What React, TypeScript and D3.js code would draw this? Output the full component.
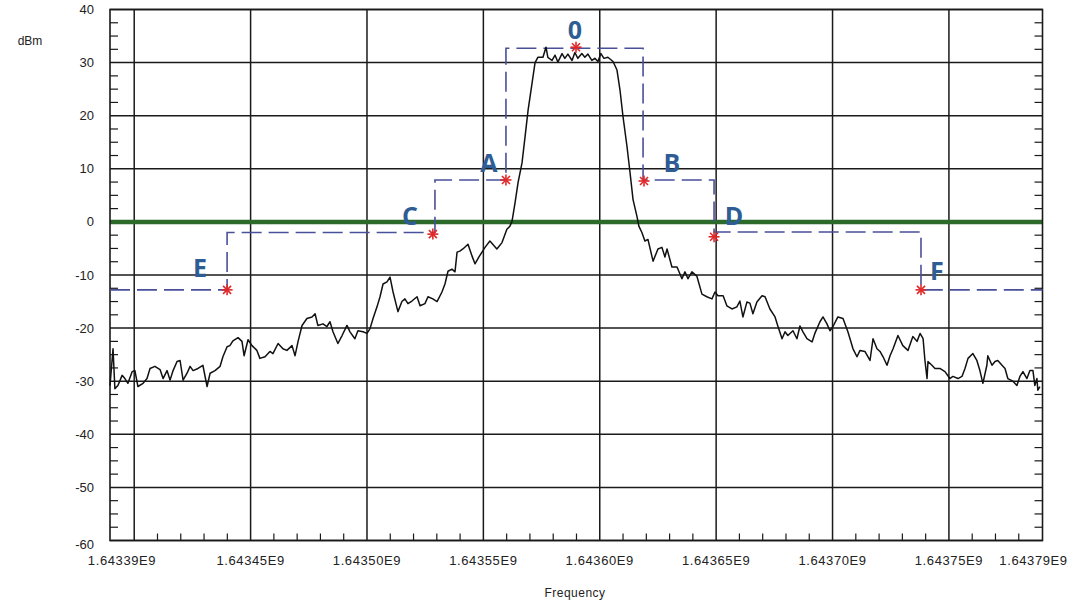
import React from "react";
import * as d3 from "d3";

// ---------- data ----------
const FREQ_MIN_HZ = 1643389600;
const FREQ_MAX_HZ = 1643790200;
const DBM_MIN = -60;
const DBM_MAX = 40;

const xMajorTicksHz = [1643400000, 1643450000, 1643500000, 1643550000, 1643600000, 1643650000, 1643700000, 1643750000];
const xLabelTicksHz = [1643450000, 1643500000, 1643550000, 1643600000, 1643650000, 1643700000, 1643750000];
const xEdgeLabels = ["1.64339E9", "1.64379E9"];
const yTicks = [40, 30, 20, 10, 0, -10, -20, -30, -40, -50, -60];

// trace: frequency offset (kHz) from FREQ_MIN_HZ, level in dBm
const traceOffsetKHz = [
  0, 1.3, 2.1, 3.4, 5.2, 6.4, 7.7, 9.5, 10.7, 12.0, 14.2, 15.9, 17.2, 19.3, 21.5, 22.8, 24.5, 25.8, 27.1, 28.8,
  30.1, 31.4, 33.1, 34.4, 35.7, 37.8, 39.9, 41.7, 43.0, 45.1, 47.3, 48.5, 50.3, 51.5, 52.8, 55.0, 56.7, 57.6, 59.3, 61.0,
  63.1, 64.4, 66.6, 68.7, 70.0, 72.2, 74.3, 76.0, 78.2, 79.5, 80.8, 82.5, 84.6, 86.8, 88.1, 89.3, 91.5, 93.2, 94.5, 95.8,
  97.9, 99.7, 101.8, 103.1, 105.2, 106.5, 108.7, 110.4, 111.7, 113.0, 114.7, 116.0, 117.3, 119.0, 120.3, 121.6, 123.7, 125.4, 126.7, 128.0,
  129.7, 131.9, 133.2, 135.3, 136.6, 138.7, 140.5, 142.6, 143.9, 145.2, 146.9, 148.2, 149.1, 150.3, 151.6, 153.8, 155.5, 156.8, 158.5, 161.1,
  163.2, 166.2, 168.4, 170.5, 171.8, 172.7, 174.0, 175.3, 177.0, 178.3, 179.6, 181.3, 182.6, 183.8, 186.0, 187.3, 188.1, 189.9, 191.2, 192.4,
  194.2, 195.4, 196.7, 198.5, 199.7, 201.0, 202.7, 204.0, 205.3, 207.0, 208.3, 209.6, 210.9, 212.2, 213.9, 216.1, 217.8, 219.1, 220.4, 222.1,
  223.4, 224.7, 226.4, 227.2, 228.5, 229.8, 231.1, 233.3, 235.4, 237.1, 238.4, 239.3, 241.4, 243.6, 245.7, 247.0, 248.3, 250.0, 252.1, 254.3,
  256.4, 258.6, 259.9, 261.2, 263.4, 265.0, 267.2, 269.3, 270.6, 271.9, 273.6, 274.9, 276.2, 277.9, 280.1, 281.4, 283.5, 285.7, 286.9, 288.7,
  290.0, 291.2, 293.4, 295.1, 296.4, 297.7, 299.4, 301.6, 302.8, 305.0, 306.3, 308.0, 309.3, 310.6, 312.7, 314.9, 317.0, 319.2, 320.9, 322.2,
  324.3, 326.5, 327.8, 329.5, 330.8, 332.1, 333.8, 335.1, 336.4, 338.5, 340.6, 342.8, 344.9, 346.7, 348.0, 349.3, 350.1, 351.0, 351.4, 353.1,
  354.4, 356.5, 358.7, 360.8, 362.1, 364.3, 366.0, 367.3, 368.6, 370.7, 372.4, 373.7, 375.0, 376.7, 377.1, 378.9, 380.2, 381.4, 383.2, 384.5,
  385.7, 387.9, 389.6, 390.9, 392.2, 393.9, 395.2, 396.5, 397.3, 398.2, 398.6, 399.5,
];
const traceDbm = [
  -30.8, -23.9, -31.4, -30.8, -28.9, -29.5, -30.4, -28.2, -28.0, -31.0, -30.4, -29.5, -27.6, -27.2, -27.8, -29.5, -28.0, -29.8, -28.0, -26.3,
  -26.1, -29.8, -28.5, -27.2, -28.0, -27.6, -27.0, -31.0, -28.5, -28.0, -27.2, -25.4, -23.5, -23.3, -22.4, -21.8, -22.5, -25.2, -22.2, -23.3,
  -24.2, -25.7, -25.4, -24.4, -24.8, -22.9, -23.9, -24.2, -23.3, -25.2, -22.5, -19.5, -18.2, -17.9, -17.3, -19.5, -19.2, -19.7, -18.8, -20.7,
  -22.9, -21.4, -19.5, -20.7, -22.0, -20.5, -20.7, -21.0, -20.1, -18.2, -16.0, -14.1, -11.7, -11.3, -10.4, -13.2, -16.9, -15.0, -14.5, -15.4,
  -14.9, -14.1, -15.8, -15.4, -14.1, -14.5, -15.0, -13.2, -11.7, -9.3, -8.9, -9.4, -5.7, -5.5, -5.1, -4.2, -6.4, -7.9, -6.6, -4.8,
  -3.6, -5.1, -3.9, -1.4, -0.8, 0.1, 3.6, 7.4, 11.1, 16.0, 21.0, 26.1, 30.0, 31.0, 31.0, 32.9, 31.0, 30.4, 31.4, 30.1,
  31.7, 30.8, 31.6, 30.4, 31.9, 30.8, 31.7, 31.0, 31.6, 30.4, 30.8, 30.2, 31.7, 30.8, 31.0, 30.2, 28.6, 24.8, 19.8, 14.2,
  9.3, 4.2, 1.0, -0.8, -2.0, -3.6, -3.3, -7.4, -5.1, -4.8, -6.6, -5.1, -8.5, -8.5, -10.7, -9.4, -10.7, -9.4, -10.2, -13.6,
  -14.1, -14.5, -13.2, -13.9, -13.9, -15.8, -16.4, -16.0, -14.9, -17.9, -15.1, -15.3, -17.3, -15.1, -13.9, -14.1, -16.4, -17.9, -19.6, -22.0,
  -20.7, -21.4, -20.5, -22.0, -19.6, -20.7, -22.0, -22.6, -21.0, -18.8, -17.9, -19.2, -20.5, -19.7, -17.9, -18.2, -20.7, -23.9, -25.4, -24.2,
  -24.4, -26.1, -22.0, -23.9, -24.4, -25.4, -27.0, -25.2, -23.9, -21.4, -23.3, -24.2, -21.6, -22.5, -21.0, -22.0, -26.1, -29.5, -26.3, -27.0,
  -27.6, -27.6, -28.2, -29.5, -29.1, -29.5, -29.1, -27.6, -25.7, -24.8, -26.1, -28.0, -30.4, -27.0, -25.2, -27.0, -26.3, -26.1, -27.0, -27.6,
  -29.5, -30.0, -30.8, -29.1, -28.2, -29.5, -28.0, -28.0, -30.8, -29.5, -31.7, -31.0,
];

// spectrum mask (step line)
const maskOffsetKHz = [0, 50.3, 50.3, 139.6, 139.6, 170.1, 170.1, 229.0, 229.0, 259.5, 259.5, 348.4, 348.4, 400.6];
const maskDbm = [-12.8, -12.8, -2.0, -2.0, 7.9, 7.9, 32.7, 32.7, 7.9, 7.9, -1.9, -1.9, -12.8, -12.8];

// marker points
const markerNames = ["E", "C", "A", "0", "B", "D", "F"];
const markerOffsetKHz = [50.3, 138.7, 170.1, 200.2, 229.4, 259.5, 348.4];
const markerDbm = [-12.8, -2.3, 7.9, 32.9, 7.7, -2.8, -12.8];
// label placement relative to marker (px)
const markerLabelDx = [-27, -23, -17, -1, 28, 20, 16];
const markerLabelDy = [-13, -9, -8, -8, -9, -12, -10];

const REFERENCE_DBM = 0;

// ---------- layout ----------
const W = 1080;
const H = 610;
const PL = 110;
const PR = 1042.5;
const PT = 9.5;
const PB = 540.5;

export default function App() {
  const x = d3.scaleLinear().domain([FREQ_MIN_HZ, FREQ_MAX_HZ]).range([PL, PR]);
  const y = d3.scaleLinear().domain([DBM_MIN, DBM_MAX]).range([PB, PT]);

  const trace = traceOffsetKHz.map((k, i) => [FREQ_MIN_HZ + k * 1000, traceDbm[i]] as [number, number]);
  const mask = maskOffsetKHz.map((k, i) => [FREQ_MIN_HZ + k * 1000, maskDbm[i]] as [number, number]);
  const line = d3
    .line<[number, number]>()
    .x((d) => x(d[0]))
    .y((d) => y(d[1]));

  const yMinor = d3.range(DBM_MIN + 2.5, DBM_MAX, 2.5).filter((v) => Math.abs(v % 10) > 0.01);
  const xMinor = d3
    .range(1643410000, 1643785000, 10000)
    .filter((v) => v % 50000 !== 0);

  const font = "'Liberation Sans', Arial, sans-serif";
  const fmt = (v: number) => (v / 1e9).toFixed(5) + "E9";

  return (
    <svg
      width={W}
      height={H}
      viewBox={`0 0 ${W} ${H}`}
      style={{ position: "absolute", left: 0, top: 0, background: "#fff" }}
    >
      <rect x={0} y={0} width={W} height={H} fill="#ffffff" />
      <rect x={PL} y={PT} width={PR - PL} height={PB - PT} fill="#ffffff" />

      {/* horizontal grid */}
      {yTicks.map((t) => (
        <line key={"hg" + t} x1={PL} x2={PR} y1={y(t)} y2={y(t)} stroke="#1a1a1a" strokeWidth={1.5} />
      ))}
      {/* vertical grid */}
      {xMajorTicksHz.map((t) => (
        <line key={"vg" + t} x1={x(t)} x2={x(t)} y1={PT} y2={PB} stroke="#1a1a1a" strokeWidth={1.5} />
      ))}

      {/* minor ticks */}
      {yMinor.map((t) => (
        <g key={"ym" + t}>
          <line x1={PL} x2={PL + 8} y1={y(t)} y2={y(t)} stroke="#1a1a1a" strokeWidth={1.2} />
          <line x1={PR - 8} x2={PR} y1={y(t)} y2={y(t)} stroke="#1a1a1a" strokeWidth={1.2} />
        </g>
      ))}
      {xMinor.map((t) => (
        <line key={"xm" + t} x1={x(t)} x2={x(t)} y1={PB} y2={PB - 7} stroke="#1a1a1a" strokeWidth={1.2} />
      ))}

      {/* reference line */}
      <line
        x1={PL}
        x2={PR}
        y1={y(REFERENCE_DBM)}
        y2={y(REFERENCE_DBM)}
        stroke="#2b6a2b"
        strokeWidth={4.5}
      />

      {/* frame */}
      <rect x={PL} y={PT} width={PR - PL} height={PB - PT} fill="none" stroke="#1a1a1a" strokeWidth={1.6} />

      {/* mask */}
      <path
        d={line(mask) || ""}
        fill="none"
        stroke="#4a4f9a"
        strokeWidth={1.6}
        strokeDasharray="20 7"
      />

      {/* trace */}
      <path d={line(trace) || ""} fill="none" stroke="#111" strokeWidth={1.5} strokeLinejoin="round" />

      {/* markers */}
      {markerNames.map((n, i) => {
        const cx = x(FREQ_MIN_HZ + markerOffsetKHz[i] * 1000);
        const cy = y(markerDbm[i]);
        const r = 5.5;
        const r2 = 4;
        return (
          <g key={"mk" + n}>
            <g stroke="#e02828" strokeWidth={1.6}>
              <line x1={cx - r} x2={cx + r} y1={cy} y2={cy} />
              <line x1={cx} x2={cx} y1={cy - r} y2={cy + r} />
              <line x1={cx - r2} x2={cx + r2} y1={cy - r2} y2={cy + r2} />
              <line x1={cx - r2} x2={cx + r2} y1={cy + r2} y2={cy - r2} />
            </g>
            <text
              x={cx + markerLabelDx[i]}
              y={cy + markerLabelDy[i]}
              textAnchor="middle"
              fontFamily="'Open Sans', 'Noto Sans', sans-serif"
              fontWeight={700}
              fontSize={25}
              fill="#2e5c94"
            >
              {n}
            </text>
          </g>
        );
      })}

      {/* y tick labels */}
      {yTicks.map((t) => (
        <text
          key={"yl" + t}
          x={94}
          y={y(t) + (t === DBM_MIN ? 8 : 4.5)}
          textAnchor="end"
          fontFamily={font}
          fontSize={13}
          fill="#222"
        >
          {t}
        </text>
      ))}
      <text x={30} y={45} textAnchor="middle" fontFamily={font} fontSize={12} fill="#222">
        dBm
      </text>

      {/* x tick labels */}
      {xLabelTicksHz.map((t) => (
        <text
          key={"xl" + t}
          x={x(t)}
          y={565}
          textAnchor="middle"
          fontFamily={font}
          fontSize={13}
          letterSpacing={0.6}
          fill="#222"
        >
          {fmt(t)}
        </text>
      ))}
      <text x={x(FREQ_MIN_HZ) + 12} y={565} textAnchor="middle" fontFamily={font} fontSize={13} letterSpacing={0.6} fill="#222">
        {xEdgeLabels[0]}
      </text>
      <text x={x(FREQ_MAX_HZ) - 9} y={565} textAnchor="middle" fontFamily={font} fontSize={13} letterSpacing={0.6} fill="#222">
        {xEdgeLabels[1]}
      </text>

      <text x={575} y={597} textAnchor="middle" fontFamily={font} fontSize={12} letterSpacing={0.5} fill="#222">
        Frequency
      </text>
    </svg>
  );
}
